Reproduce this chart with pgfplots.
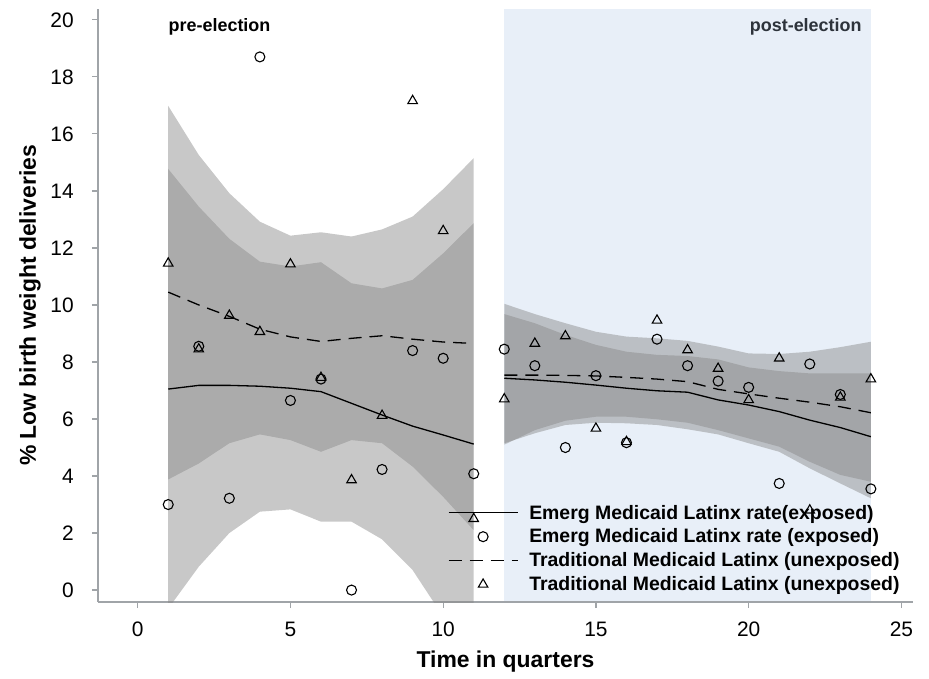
\documentclass[border=0pt]{standalone}
\usepackage{fontspec}
\setmainfont{Liberation Sans}
\usepackage{pgfplots}
\pgfplotsset{compat=1.18}
\usepackage{pgfplotstable}
\usepgfplotslibrary{fillbetween}
\definecolor{postbg}{RGB}{232,239,248}
\definecolor{axgray}{RGB}{160,164,168}
\definecolor{bandgray}{RGB}{134,134,134}
\definecolor{posttxt}{RGB}{45,51,59}

% fitted lines and confidence bands
% s = Emerg Medicaid (exposed), d = Traditional Medicaid (unexposed)
\pgfplotstableread{
x  s    slo    shi    d     dlo   dhi
1  7.05 -0.65  14.77  10.45 3.88  16.98
2  7.18  0.82  13.45  10.00 4.44  15.26
3  7.18  2.00  12.32  9.60  5.15  13.92
4  7.15  2.75  11.52  9.15  5.46  12.92
5  7.08  2.83  11.35  8.88  5.26  12.43
6  6.96  2.40  11.50  8.72  4.85  12.55
7  6.55  2.40  10.76  8.83  5.26  12.40
8  6.14  1.78  10.58  8.92  5.15  12.65
9  5.75  0.70  10.88  8.80  4.33  13.10
10 5.44 -0.93  11.81  8.70  3.27  14.06
11 5.12 -2.63  12.87  8.65  2.10  15.15
}\pre
\pgfplotstableread{
x  s    slo    shi    d     dlo   dhi
12 7.43 5.15 9.68 7.54 5.10 10.04
13 7.37 5.50 9.36 7.54 5.61 9.68
14 7.29 5.79 8.95 7.53 5.94 9.36
15 7.19 5.87 8.60 7.51 6.08 9.06
16 7.08 5.85 8.36 7.46 6.08 8.89
17 6.99 5.79 8.25 7.40 5.99 8.83
18 6.94 5.64 8.21 7.31 5.87 8.74
19 6.67 5.46 8.09 7.04 5.61 8.54
20 6.49 5.15 7.81 6.88 5.32 8.30
21 6.26 4.85 7.68 6.73 5.03 8.28
22 5.96 4.27 7.60 6.59 4.50 8.36
23 5.70 3.74 7.60 6.43 4.04 8.52
24 5.38 3.22 7.60 6.22 3.80 8.71
}\post
% observed rates
\pgfplotstableread{
x  e     t
1  3.00  11.46
2  8.55  8.45
3  3.22  9.63
4  18.70 9.06
5  6.65  11.43
6  7.40  7.45
7  0.00  3.86
8  4.23  6.12
9  8.40  17.16
10 8.13  12.60
11 4.08  2.50
12 8.45  6.70
13 7.87  8.65
14 5.00  8.91
15 7.52  5.67
16 5.17  5.20
17 8.80  9.46
18 7.87  8.42
19 7.33  7.77
20 7.11  6.67
21 3.74  8.13
22 7.93  2.80
23 6.86  6.76
24 3.55  7.40
}\obs

\begin{document}
\begin{tikzpicture}
\begin{axis}[
  set layers,
  scale only axis, width=815bp, height=593bp,
  xmin=-1.3, xmax=25.38, ymin=-0.42, ymax=20.38,
  axis x line*=bottom, axis y line*=left,
  axis line style={draw=axgray, line width=1.2bp},
  tick style={draw=axgray, line width=1.2bp},
  tick align=outside, major tick length=6bp,
  xtick={0,5,...,25}, ytick={0,2,...,20},
  /pgf/number format/assume math mode=true,
  tick label style={font=\fontsize{21}{25}\selectfont, text=black},
  xticklabel style={anchor=base, inner sep=0pt, yshift=-28bp},
  yticklabel style={anchor=east, inner sep=0pt, xshift=-18bp},
  xlabel={Time in quarters},
  ylabel={\% Low birth weight deliveries},
  label style={font=\bfseries\fontsize{23}{27}\selectfont},
  xlabel style={at={(axis description cs:0.5,-0.1096)}, anchor=base},
  ylabel style={at={(axis description cs:-0.0834,0.5)}, anchor=center},
  legend style={draw=none, fill=none, at={(axis description cs:0.4294,0.1636)},
    anchor=north west, inner sep=0pt, outer sep=0pt, column sep=11bp, row sep=8.3bp,
    font=\bfseries\fontsize{19.5}{23.3}\selectfont, nodes={inner sep=0pt}},
  legend cell align=left,
  legend image code/.code={\draw[mark repeat=2,mark phase=2,#1] plot coordinates {(0bp,0bp) (34.5bp,0bp) (69bp,0bp)};},
]
% post-election shading
\addplot[on layer=axis background, draw=none, fill=postbg, forget plot] coordinates {(12,-0.42) (12,20.38) (24,20.38) (24,-0.42)} -- cycle;

% observed points (under the translucent bands)
\addplot[on layer=axis background, only marks, mark=o, mark size=5bp, mark options={line width=1.1bp, black}, forget plot] table[x=x, y=e]{\obs};
\addplot[on layer=axis background, only marks, mark=triangle, mark size=5.5bp, mark options={line width=1.1bp, black}, forget plot] table[x=x, y=t]{\obs};

% confidence bands (pre)
\addplot[draw=none, name path=psl, forget plot] table[x=x, y=slo]{\pre};
\addplot[draw=none, name path=psh, forget plot] table[x=x, y=shi]{\pre};
\addplot[draw=none, name path=pdl, forget plot] table[x=x, y=dlo]{\pre};
\addplot[draw=none, name path=pdh, forget plot] table[x=x, y=dhi]{\pre};
\addplot[fill=bandgray, fill opacity=0.45, draw=none, forget plot] fill between[of=psl and psh];
\addplot[fill=bandgray, fill opacity=0.45, draw=none, forget plot] fill between[of=pdl and pdh];
% confidence bands (post)
\addplot[draw=none, name path=qsl, forget plot] table[x=x, y=slo]{\post};
\addplot[draw=none, name path=qsh, forget plot] table[x=x, y=shi]{\post};
\addplot[draw=none, name path=qdl, forget plot] table[x=x, y=dlo]{\post};
\addplot[draw=none, name path=qdh, forget plot] table[x=x, y=dhi]{\post};
\addplot[fill=bandgray, fill opacity=0.45, draw=none, forget plot] fill between[of=qsl and qsh];
\addplot[fill=bandgray, fill opacity=0.45, draw=none, forget plot] fill between[of=qdl and qdh];

% fitted lines
\addplot[black, line width=1.3bp, forget plot] table[x=x, y=s]{\pre};
\addplot[black, line width=1.3bp, forget plot] table[x=x, y=s]{\post};
\addplot[black, line width=1.3bp, dash pattern=on 13bp off 8bp, forget plot] table[x=x, y=d]{\pre};
\addplot[black, line width=1.3bp, dash pattern=on 13bp off 8bp, forget plot] table[x=x, y=d]{\post};

% legend
\addlegendimage{black, line width=1.3bp}
\addlegendentry{Emerg Medicaid Latinx rate(exposed)}
\addlegendimage{only marks, mark=o, mark size=5bp, mark options={line width=1.1bp, black}}
\addlegendentry{Emerg Medicaid Latinx rate (exposed)}
\addlegendimage{black, line width=1.3bp, dash pattern=on 13bp off 8bp}
\addlegendentry{Traditional Medicaid Latinx (unexposed)}
\addlegendimage{only marks, mark=triangle, mark size=5.5bp, mark options={line width=1.1bp, black}}
\addlegendentry{Traditional Medicaid Latinx (unexposed)}

\node[font=\bfseries\fontsize{18}{21}\selectfont, anchor=base] at (axis cs:2.68,19.6) {pre-election};
\node[font=\bfseries\fontsize{18}{21}\selectfont, text=posttxt, anchor=base east] at (axis cs:23.81,19.6) {post-election};

\coordinate (bbsw) at (rel axis cs:-0.1202,-0.1282);
\coordinate (bbne) at (rel axis cs:1.0196,1.0152);
\end{axis}
\pgfresetboundingbox
\path[use as bounding box] (bbsw) rectangle (bbne);
\end{tikzpicture}
\end{document}
